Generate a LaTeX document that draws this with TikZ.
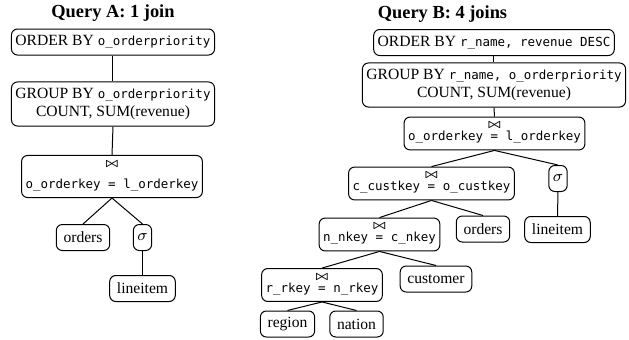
\documentclass[tikz,border=0pt]{standalone}
\usepackage{fontspec}
\setmainfont{Liberation Serif}
\setmonofont{DejaVu Sans Mono}[Scale=0.8]

\newcommand{\joinsym}{{\tiny\boldmath$\bowtie$}}

\begin{document}
\begin{tikzpicture}[x=0.5pt,y=-0.5pt,
  font=\fontsize{7.8}{9.2}\selectfont,
  op/.style={draw, rounded corners=3pt, align=center, inner xsep=2pt, inner ysep=3pt, minimum height=13pt, line width=0.5pt},
  tbl/.style={op, inner xsep=3.6pt},
  hdr/.style={font=\fontsize{9.2}{11}\selectfont\bfseries},
  lnk/.style={draw, line width=0.5pt}]
\useasboundingbox (0,0) rectangle (629,339);

% Query A
\node[hdr] (titleA) at (113,13) {Query A: 1 join};
\node[op] (ordA) at (113,42) {ORDER BY \texttt{o\_orderpriority}};
\node[op] (grpA) at (113,104) {GROUP BY \texttt{o\_orderpriority}\\COUNT, SUM(revenue)};
\node[op] (joinA) at (112,176.5) {\joinsym\\[2pt]\texttt{o\_orderkey = l\_orderkey}};
\node[tbl] (ordersA) at (83,237.5) {orders};
\node[op] (selA) at (142.5,237.5) {$\sigma$};
\node[tbl] (lineA) at (142.5,288.5) {lineitem};

\path[lnk] (ordA.south) -- (grpA.north);
\path[lnk] (grpA.south) -- (joinA.north);
\path[lnk] (joinA.south) -- (ordersA.north);
\path[lnk] (joinA.south) -- (selA.north);
\path[lnk] (selA.south) -- (lineA.north);

% Query B
\node[hdr] (titleB) at (442.5,14) {Query B: 4 joins};
\node[op] (ordB) at (494,42.5) {ORDER BY \texttt{r\_name, revenue DESC}};
\node[op] (grpB) at (494,85) {GROUP BY \texttt{r\_name, o\_orderpriority}\\COUNT, SUM(revenue)};
\node[op] (joinB) at (494.5,133.5) {\joinsym\\[-2.6pt]\texttt{o\_orderkey = l\_orderkey}};
\node[op] (custjoin) at (431.5,183.5) {\joinsym\\[-2.6pt]\texttt{c\_custkey = o\_custkey}};
\node[op] (selB) at (558,178.5) {$\sigma$};
\node[op] (nationjoin) at (379.5,234.5) {\joinsym\\[-2.6pt]\texttt{n\_nkey = c\_nkey}};
\node[tbl] (ordersB) at (483,229) {orders};
\node[tbl] (lineB) at (557.5,229.5) {lineitem};
\node[op] (regionjoin) at (322,285) {\joinsym\\[-2.6pt]\texttt{r\_rkey = n\_rkey}};
\node[tbl] (custB) at (436,279) {customer};
\node[tbl] (regionB) at (287.5,324) {region};
\node[tbl] (nationB) at (356.5,324) {nation};

\path[lnk] (ordB.south) -- (grpB.north);
\path[lnk] (grpB.south) -- (joinB.north);
\path[lnk] (joinB.south) -- (custjoin.north);
\path[lnk] (joinB.south) -- (selB.north);
\path[lnk] (selB.south) -- (lineB.north);
\path[lnk] (custjoin.south) -- (nationjoin.north);
\path[lnk] (custjoin.south) -- (ordersB.north);
\path[lnk] (nationjoin.south) -- (regionjoin.north);
\path[lnk] (nationjoin.south) -- (custB.north);
\path[lnk] (regionjoin.south) -- (regionB.north);
\path[lnk] (regionjoin.south) -- (nationB.north);
\end{tikzpicture}
\end{document}
